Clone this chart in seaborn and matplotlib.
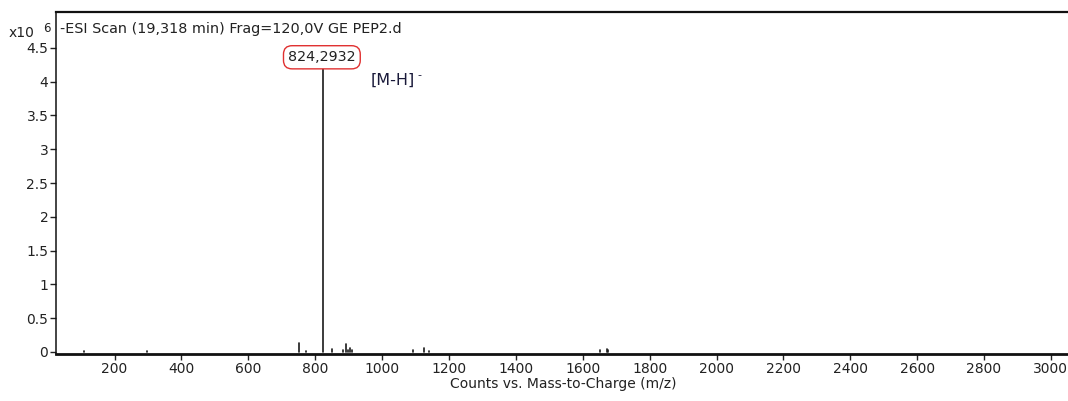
import matplotlib
matplotlib.use("Agg")
import matplotlib.pyplot as plt
import seaborn as sns
import pandas as pd

# Data: stick spectrum peaks (m/z, intensity in counts x10^6)
peak_mz = [110, 296, 753, 774, 824.2932, 849, 884, 893, 897, 904, 910,
           1091, 1126, 1139, 1653, 1672, 1677]
peak_int = [0.01, 0.012, 0.14, 0.015, 4.25, 0.04, 0.035, 0.12, 0.03, 0.06, 0.03,
            0.035, 0.055, 0.02, 0.035, 0.05, 0.03]
x_ticks = [200, 400, 600, 800, 1000, 1200, 1400, 1600, 1800, 2000,
           2200, 2400, 2600, 2800, 3000]
y_ticks = [0, 0.5, 1, 1.5, 2, 2.5, 3, 3.5, 4, 4.5]
y_tick_labels = ["0", "0.5", "1", "1.5", "2", "2.5", "3", "3.5", "4", "4.5"]
title_text = "-ESI Scan (19,318 min) Frag=120,0V GE PEP2.d"
peak_label = "824,2932"
x_label = "Counts vs. Mass-to-Charge (m/z)"

rows = []
for i, (m, h) in enumerate(zip(peak_mz, peak_int)):
    rows.append({"peak": i, "mz": m, "intensity": 0.0})
    rows.append({"peak": i, "mz": m, "intensity": h})
df = pd.DataFrame(rows)

sns.set_theme(style="white")
plt.rcParams['font.family'] = ['DejaVu Sans']

fig = plt.figure(figsize=(10.68, 4.01), dpi=100)
W, H = 1068, 401
left_px, right_px, top_px, bot_px = 56, 1071, 12, 354
ax = fig.add_axes([left_px / W, (H - bot_px) / H, (right_px - left_px) / W, (bot_px - top_px) / H])

sns.lineplot(data=df, x="mz", y="intensity", units="peak", estimator=None,
             sort=False, color="#1a1a1a", linewidth=1.2, ax=ax, legend=False)

ax.set_xlim(25, 3060)
ax.set_ylim(-0.03, 5.03)
ax.set_xticks(x_ticks)
ax.set_xticklabels([str(t) for t in x_ticks])
ax.set_yticks(y_ticks)
ax.set_yticklabels(y_tick_labels)
ax.tick_params(axis="both", which="major", direction="out", length=4, width=1,
               color="#222222", labelsize=10, labelcolor="#222222", pad=1.5,
               bottom=True, left=True)
ax.set_xlabel(x_label, fontsize=10, color="#222222", labelpad=1)
ax.set_ylabel("")

for s in ["left", "top", "bottom", "right"]:
    ax.spines[s].set_color("#111111")
ax.spines["bottom"].set_linewidth(2.0)
ax.spines["top"].set_linewidth(1.6)
ax.spines["left"].set_linewidth(1.1)
ax.spines["right"].set_visible(False)
ax.grid(False)

ax.text(0.004, 0.97, title_text, transform=ax.transAxes, fontsize=10.4,
        color="#222222", ha="left", va="top")

ax.annotate(peak_label, xy=(820, 4.36), ha="center", va="center", fontsize=10.3,
            color="#222222",
            bbox=dict(boxstyle="round,pad=0.32,rounding_size=0.6", fc="white",
                      ec="#e03030", lw=1.0))
mh = ax.text(966, 4.02, "[M-H]", ha="left", va="center", fontsize=11.5,
             color="#1a1a3a")
ax.annotate("-", xy=(1, 1), xycoords=mh, xytext=(1.5, -1.5),
            textcoords="offset points", ha="left", va="center", fontsize=8,
            color="#1a1a3a")

fig.text(9 / W, 1 - 33 / H, "x10", fontsize=10, color="#222222", ha="left", va="center")
fig.text(43 / W, 1 - 28 / H, "6", fontsize=8.5, color="#222222", ha="left", va="center")

fig.savefig("out.png", dpi=100)
